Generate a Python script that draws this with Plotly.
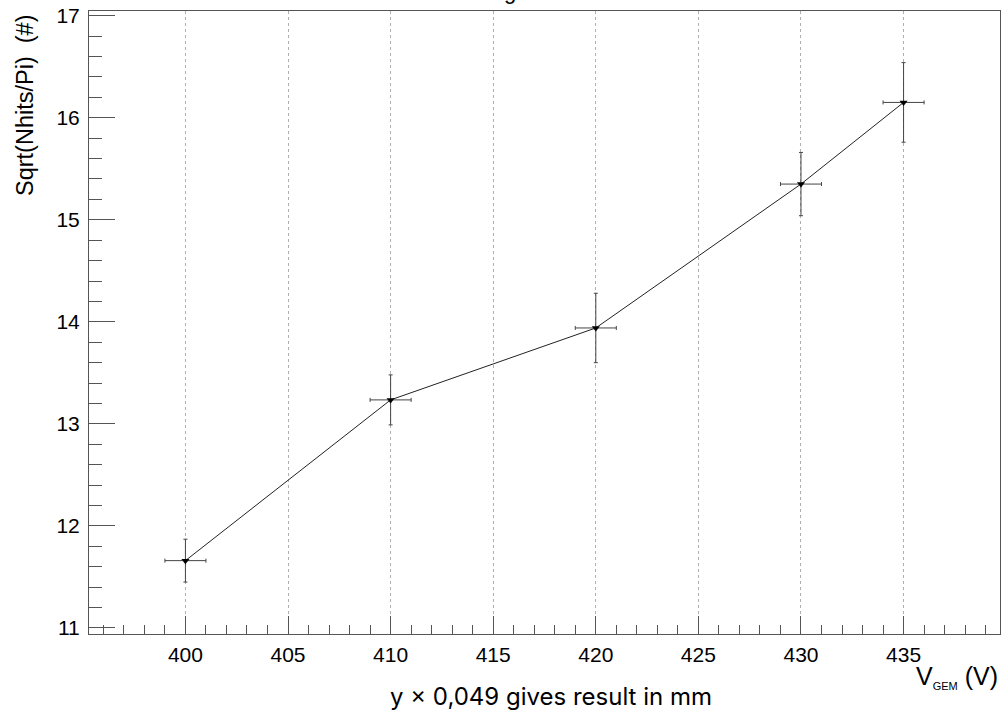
import plotly.graph_objects as go

# Data
v_gem = [400, 410, 420, 430, 435]
sqrt_nhits = [11.66, 13.235, 13.94, 15.35, 16.15]
err_y = [0.21, 0.245, 0.34, 0.31, 0.39]
err_x = [1, 1, 1, 1, 1]

x_range = [395.3, 439.7]
y_range = [10.941, 17.046]

y_title = "Sqrt(Nhits/Pi)  (#)"
note_text = "y \u00d7 0,049 gives result in mm"

W, H = 1003, 714
L, R, T, B = 89, 3, 11, 80

fig = go.Figure()
fig.add_trace(go.Scatter(
    x=v_gem, y=sqrt_nhits,
    mode="lines+markers",
    line=dict(color="#222", width=1),
    marker=dict(symbol="triangle-down", size=7, color="black"),
    error_x=dict(type="data", array=err_x, color="#444", thickness=1, width=2),
    error_y=dict(type="data", array=err_y, color="#444", thickness=1, width=2),
    showlegend=False,
))

axis_font = dict(family="Liberation Sans, Arial, sans-serif", size=21, color="black")

fig.update_layout(
    width=W, height=H,
    margin=dict(l=L, r=R, t=T, b=B),
    paper_bgcolor="white", plot_bgcolor="white",
    xaxis=dict(
        range=x_range, showgrid=True, gridcolor="#b0b0b0", griddash="dot", gridwidth=1,
        dtick=5, tick0=400, ticks="inside", ticklen=18, tickcolor="#555", tickwidth=1,
        minor=dict(dtick=1, tick0=400, ticks="inside", ticklen=9, tickcolor="#555", showgrid=False),
        showline=True, linecolor="#555", linewidth=1, mirror=True,
        zeroline=False, tickfont=axis_font, ticklabelstandoff=2,
    ),
    yaxis=dict(
        range=y_range, showgrid=False,
        dtick=1, tick0=11, ticks="inside", ticklen=26, tickcolor="#555", tickwidth=1,
        minor=dict(dtick=0.2, tick0=11, ticks="inside", ticklen=13, tickcolor="#555", showgrid=False),
        showline=True, linecolor="#555", linewidth=1, mirror=True,
        zeroline=False, tickfont=axis_font, ticklabelstandoff=4,
    ),
)

plot_h = H - T - B
plot_w = W - L - R

def px_to_paper_y(py):
    return (H - B - py) / plot_h

def px_to_paper_x(px):
    return (px - L) / plot_w

# Y-axis title (rotated, aligned toward top)
fig.add_annotation(
    text=y_title, xref="paper", yref="paper",
    x=px_to_paper_x(25), y=px_to_paper_y(12),
    xanchor="center", yanchor="top", textangle=-90, showarrow=False,
    font=dict(family="Liberation Sans, Arial, sans-serif", size=23.5, color="black"),
)

# X-axis title at the right end
fig.add_annotation(
    text="V<sub><span style='font-size:11px'>GEM</span></sub> (V)",
    xref="paper", yref="paper",
    x=px_to_paper_x(1000), y=px_to_paper_y(677),
    xanchor="right", yanchor="middle", showarrow=False,
    font=dict(family="Liberation Sans, Arial, sans-serif", size=25, color="black"),
)

# Note below the axis
fig.add_annotation(
    text=note_text, xref="paper", yref="paper",
    x=px_to_paper_x(551), y=px_to_paper_y(696),
    xanchor="center", yanchor="middle", showarrow=False,
    font=dict(family="Inter, Lato, sans-serif", size=24, color="black"),
)

# Title, mostly outside the visible page (only a descender shows)
fig.add_annotation(
    text="g", xref="paper", yref="paper",
    x=px_to_paper_x(510), y=px_to_paper_y(-9),
    xanchor="center", yanchor="middle", showarrow=False,
    font=dict(family="Liberation Sans, Arial, sans-serif", size=22, color="black"),
)

fig.write_html("out.html")
